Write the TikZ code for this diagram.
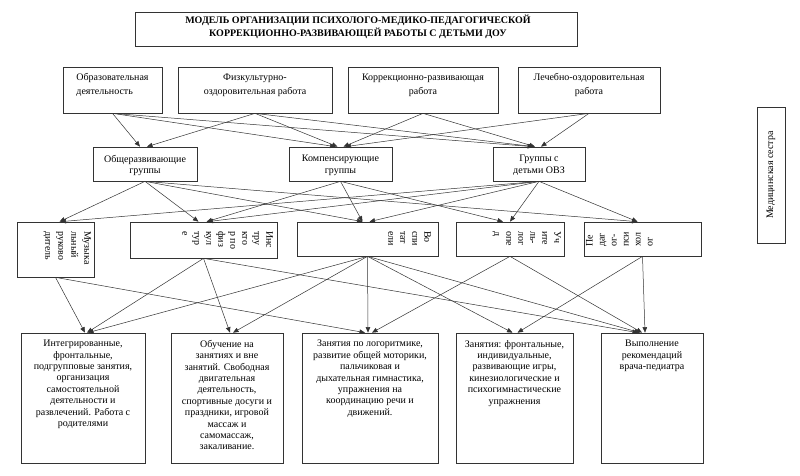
\documentclass[tikz,border=0pt]{standalone}
\usepackage{fontspec}
\setmainfont{Liberation Serif}
\usetikzlibrary{arrows.meta}
\begin{document}
\begin{tikzpicture}[x=1pt,y=1pt,
  box/.style={draw=black!80, line width=0.7pt, inner sep=0pt},
  txt/.style={font=\fontsize{10}{11.4}\selectfont, inner sep=0pt, align=center, execute at begin node=\strut},
  ttl/.style={font=\bfseries\fontsize{10}{13}\selectfont, inner sep=0pt, align=center, execute at begin node=\strut},
  rtxt/.style={font=\fontsize{10}{12}\selectfont, inner sep=0pt, align=left, execute at begin node=\strut},
  arr/.style={-{Triangle[length=5.5pt,width=4.5pt]}, line width=0.5pt, draw=black!80}]
\useasboundingbox (0,0) rectangle (800,-475);
\fill[white] (0,0) rectangle (800,-475);
% title
\node[box, minimum width=442pt, minimum height=34pt] (T) at (356,-29) {};
\node[ttl, anchor=north] (Tt) at (358,-14.6) {МОДЕЛЬ ОРГАНИЗАЦИИ ПСИХОЛОГО-МЕДИКО-ПЕДАГОГИЧЕСКОЙ\\КОРРЕКЦИОННО-РАЗВИВАЮЩЕЙ РАБОТЫ С ДЕТЬМИ ДОУ};
% top row
\node[box, minimum width=99pt, minimum height=46pt] (A) at (112.5,-90) {};
\node[box, minimum width=154pt, minimum height=46pt] (B) at (255,-90) {};
\node[box, minimum width=150pt, minimum height=46pt] (C) at (423,-90) {};
\node[box, minimum width=142pt, minimum height=46pt] (D) at (589,-90) {};
\node[txt, align=left, anchor=north] (At) at (112.5,-73.5) {Образовательная\\[2.6pt]деятельность};
\node[txt, anchor=north] (Bt) at (255,-73.5) {Физкультурно-\\[2.6pt]оздоровительная работа};
\node[txt, anchor=north] (Ct) at (423,-73.5) {Коррекционно-развивающая\\[2.6pt]работа};
\node[txt, anchor=north] (Dt) at (589,-73.5) {Лечебно-оздоровительная\\[2.6pt]работа};
% middle row
\node[box, minimum width=104pt, minimum height=34pt] (E) at (145,-164) {};
\node[box, minimum width=103pt, minimum height=34pt] (F) at (340.5,-164) {};
\node[box, minimum width=92pt, minimum height=34pt] (G) at (539,-164) {};
\node[txt, anchor=north] (Et) at (145,-155) {Общеразвивающие\\группы};
\node[txt, anchor=north] (Ft) at (340.5,-155) {Компенсирующие\\группы};
\node[txt, anchor=north] (Gt) at (539,-155) {Группы с\\детьми ОВЗ};
% specialists
\node[box, minimum width=77pt, minimum height=55pt] (H) at (55.5,-249.5) {};
\node[box, minimum width=147pt, minimum height=36pt] (I) at (203.5,-240) {};
\node[box, minimum width=141pt, minimum height=34pt] (J) at (367.5,-239) {};
\node[box, minimum width=108pt, minimum height=34pt] (K) at (510,-239) {};
\node[box, minimum width=117pt, minimum height=34pt] (L) at (642.5,-239) {};
\node[rtxt, font=\fontsize{10}{13}\selectfont, rotate=-90, anchor=north west] (Ht) at (91.1,-231) {Музыка\\льный\\руково\\дитель};
\node[rtxt, rotate=-90, anchor=north west] (It) at (273.1,-231) {Инс\\тру\\кто\\р по\\физ\\кул\\тур\\е};
\node[rtxt, rotate=-90, anchor=north west] (Jt) at (431.1,-231) {Во\\спи\\тат\\ели};
\node[rtxt, rotate=-90, anchor=north west] (Kt) at (561.1,-231) {Уч\\ите\\ль-\\лог\\опе\\д};
\node[rtxt, rotate=90, anchor=north west] (Lt) at (585.9,-247) {Пе\\даг\\ог-\\пси\\хол\\ог};
% medical sister
\node[box, minimum width=28pt, minimum height=136pt] (M) at (771,-175) {};
\node[font=\fontsize{10}{12}\selectfont, inner sep=0pt, rotate=90] (Mt) at (M.center) {Медицинская сестра};
% bottom row
\node[box, minimum width=124pt, minimum height=130pt] (N) at (83,-398) {};
\node[box, minimum width=112pt, minimum height=130pt] (O) at (227,-398) {};
\node[box, minimum width=136pt, minimum height=130pt] (P) at (370,-398) {};
\node[box, minimum width=117pt, minimum height=130pt] (Q) at (514.5,-398) {};
\node[box, minimum width=102pt, minimum height=130pt] (R) at (652,-398) {};
\node[txt, anchor=north] (Nt) at (83,-340) {Интегрированные,\\фронтальные,\\подгрупповые занятия,\\организация\\самостоятельной\\деятельности и\\развлечений. Работа с\\родителями};
\node[txt, anchor=north] (Ot) at (227,-340) {Обучение на\\занятиях и вне\\занятий. Свободная\\двигательная\\деятельность,\\спортивные досуги и\\праздники, игровой\\массаж и\\самомассаж,\\закаливание.};
\node[txt, anchor=north] (Pt) at (370,-340) {Занятия по логоритмике,\\развитие общей моторики,\\пальчиковая и\\дыхательная гимнастика,\\упражнения на\\координацию речи и\\движений.};
\node[txt, anchor=north] (Qt) at (514.5,-340) {Занятия: фронтальные,\\индивидуальные,\\развивающие игры,\\кинезиологические и\\психогимнастические\\упражнения};
\node[txt, anchor=north] (Rt) at (652,-340) {Выполнение\\рекомендаций\\врача-педиатра};
% level 1 -> 2
\draw[arr] (A.south) -- ([xshift=-5pt]E.north);
\draw[arr] (B.south) -- ([xshift=2pt]E.north);
\draw[arr] (A.south) -- ([xshift=-5pt]F.north);
\draw[arr] (B.south) -- ([xshift=-3pt]F.north);
\draw[arr] (C.south) -- ([xshift=3pt]F.north);
\draw[arr] (D.south) -- ([xshift=5pt]F.north);
\draw[arr] (A.south) -- ([xshift=-6pt]G.north);
\draw[arr] (B.south) -- ([xshift=-5pt]G.north);
\draw[arr] (C.south) -- ([xshift=-4pt]G.north);
\draw[arr] (D.south) -- ([xshift=2pt]G.north);
% level 2 -> 3
\draw[arr] (E.south) -- ([xshift=4pt]H.north);
\draw[arr] (G.south) -- ([xshift=5pt]H.north);
\draw[arr] (E.south) -- ([xshift=-5pt]I.north);
\draw[arr] (F.south) -- ([xshift=3pt]I.north);
\draw[arr] (G.south) -- ([xshift=4pt]I.north);
\draw[arr] (E.south) -- ([xshift=-5pt]J.north);
\draw[arr] (F.south) -- ([xshift=-5pt]J.north);
\draw[arr] (G.south) -- ([xshift=2pt]J.north);
\draw[arr] (F.south) -- ([xshift=-7pt]K.north);
\draw[arr] (G.south) -- (K.north);
\draw[arr] (E.south) -- ([xshift=-5pt]L.north);
\draw[arr] (G.south) -- ([xshift=-5pt]L.north);
% level 3 -> 4
\draw[arr] (H.south) -- ([xshift=2pt]N.north);
\draw[arr] (I.south) -- ([xshift=4pt]N.north);
\draw[arr] (J.south) -- ([xshift=5pt]N.north);
\draw[arr] (I.south) -- ([xshift=3pt]O.north);
\draw[arr] (J.south) -- ([xshift=6pt]O.north);
\draw[arr] (H.south) -- ([xshift=-5pt]P.north);
\draw[arr] (J.south) -- ([xshift=-2pt]P.north);
\draw[arr] (K.south) -- ([xshift=2pt]P.north);
\draw[arr] (J.south) -- ([xshift=-2pt]Q.north);
\draw[arr] (L.south) -- ([xshift=3pt]Q.north);
\draw[arr] (I.south) -- ([xshift=-14pt]R.north);
\draw[arr] (J.south) -- ([xshift=-12pt]R.north);
\draw[arr] (K.south) -- ([xshift=-10pt]R.north);
\draw[arr] (L.south) -- ([xshift=-7pt]R.north);
\end{tikzpicture}
\end{document}
